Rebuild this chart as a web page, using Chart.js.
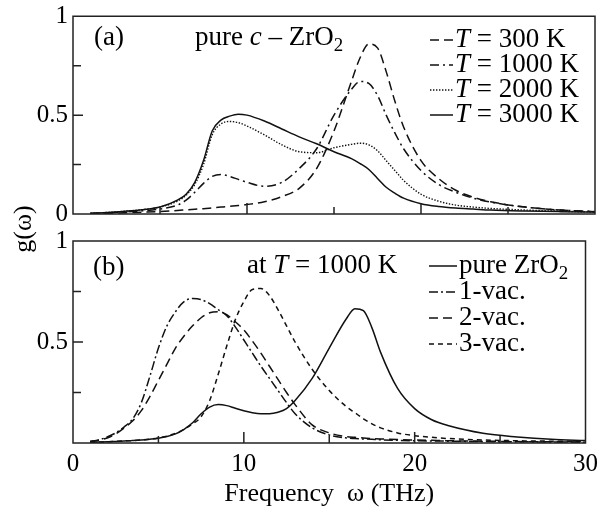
<!DOCTYPE html>
<html>
<head>
<meta charset="utf-8">
<script src="https://cdn.jsdelivr.net/npm/chart.js@4.4.1/dist/chart.umd.min.js"></script>
<style>
  html, body { margin: 0; padding: 0; background: #fff; }
  #wrap { position: relative; width: 607px; height: 513px; }
  #wrap canvas { position: absolute; left: 0; top: 0; }
</style>
</head>
<body>
<div id="wrap">
  <canvas id="top-chart" width="607" height="513"></canvas>
  <canvas id="bottom-chart" width="607" height="513"></canvas>
</div>
<script>
// panel (a): pure c-ZrO2 at several temperatures
const freqA = [1, 2, 3, 4, 5, 6, 6.5, 7, 7.5, 8, 8.5, 9, 9.5, 10, 11, 12, 13, 14, 15, 16,
               16.5, 17, 17.5, 18, 18.5, 19, 20, 21, 22, 23, 24, 26, 28, 30];
const gT300  = [0.002, 0.004, 0.006, 0.009, 0.013, 0.018, 0.021, 0.024, 0.027, 0.031, 0.035, 0.039, 0.043, 0.048,
                0.062, 0.088, 0.13, 0.23, 0.42, 0.67, 0.79, 0.86, 0.84, 0.72, 0.57, 0.44,
                0.27, 0.18, 0.12, 0.085, 0.062, 0.035, 0.02, 0.012];
const gT1000 = [0.003, 0.006, 0.01, 0.016, 0.025, 0.045, 0.07, 0.11, 0.155, 0.19, 0.2, 0.19, 0.175, 0.16,
                0.14, 0.16, 0.23, 0.33, 0.5, 0.63, 0.67, 0.66, 0.6, 0.5, 0.41, 0.33,
                0.22, 0.15, 0.11, 0.08, 0.06, 0.035, 0.02, 0.012];
const gT2000 = [0.004, 0.008, 0.014, 0.022, 0.035, 0.065, 0.095, 0.15, 0.25, 0.4, 0.455, 0.468, 0.462, 0.445,
                0.4, 0.35, 0.315, 0.31, 0.335, 0.352, 0.358, 0.35, 0.32, 0.27, 0.22, 0.17,
                0.1, 0.065, 0.045, 0.035, 0.028, 0.02, 0.014, 0.01];
const gT3000 = [0.004, 0.008, 0.014, 0.022, 0.035, 0.07, 0.1, 0.16, 0.27, 0.42, 0.475, 0.495, 0.505, 0.5,
                0.47, 0.43, 0.39, 0.355, 0.315, 0.28, 0.255, 0.225, 0.18, 0.135, 0.105, 0.08,
                0.052, 0.038, 0.03, 0.025, 0.02, 0.015, 0.012, 0.01];
const tempLabels = ['300 K', '1000 K', '2000 K', '3000 K'];

// panel (b): vacancies at T = 1000 K
const freqB = [1, 1.5, 2, 2.5, 3, 3.5, 4, 4.5, 5, 5.5, 6, 6.5, 7, 7.5, 8, 8.5, 9, 9.5, 10, 10.5,
               11, 11.5, 12, 12.5, 13, 14, 15, 16, 16.5, 17, 17.5, 18, 19, 20, 21, 22, 24, 26, 28, 30];
const gPure = [0.004, 0.005, 0.006, 0.008, 0.01, 0.012, 0.015, 0.019, 0.024, 0.032, 0.045, 0.068, 0.1, 0.145,
               0.178, 0.19, 0.185, 0.172, 0.16, 0.15, 0.145, 0.145, 0.152, 0.17, 0.21, 0.32, 0.47, 0.615,
               0.665, 0.655, 0.57, 0.45, 0.27, 0.17, 0.115, 0.085, 0.048, 0.03, 0.018, 0.012];
const gVac1 = [0.008, 0.015, 0.03, 0.05, 0.08, 0.12, 0.2, 0.33, 0.47, 0.58, 0.65, 0.7, 0.715, 0.71,
               0.69, 0.66, 0.63, 0.575, 0.51, 0.445, 0.38, 0.32, 0.26, 0.2, 0.145, 0.075, 0.04, 0.025,
               0.022, 0.02, 0.018, 0.016, 0.013, 0.011, 0.01, 0.009, 0.007, 0.006, 0.005, 0.004];
const gVac2 = [0.008, 0.014, 0.025, 0.045, 0.075, 0.11, 0.16, 0.23, 0.31, 0.39, 0.47, 0.53, 0.58, 0.62,
               0.645, 0.65, 0.635, 0.6, 0.56, 0.505, 0.445, 0.38, 0.315, 0.25, 0.19, 0.09, 0.05, 0.032,
               0.028, 0.025, 0.022, 0.02, 0.017, 0.015, 0.013, 0.011, 0.009, 0.007, 0.006, 0.005];
const gVac3 = [0.004, 0.005, 0.006, 0.008, 0.01, 0.012, 0.015, 0.019, 0.025, 0.034, 0.048, 0.068, 0.095, 0.13,
               0.21, 0.34, 0.48, 0.61, 0.7, 0.76, 0.765, 0.73, 0.66, 0.58, 0.5, 0.365, 0.26, 0.18,
               0.15, 0.12, 0.095, 0.075, 0.05, 0.036, 0.028, 0.022, 0.015, 0.011, 0.009, 0.007];
const vacLabels = ['pure ZrO', '1-vac.', '2-vac.', '3-vac.'];

const xTicks = [0, 10, 20, 30];
const yTicksA = [0, 0.5, 1];
const yTicksB = [0.5, 1];
const xTickMarks = [5, 10, 15, 20, 25];
const yTickMarks = [0.25, 0.5, 0.75];

const serif = "'Liberation Serif', 'Times New Roman', serif";
const ink = '#111';

function drawParts(ctx, x, y, parts, size) {
    ctx.textBaseline = 'middle';
    ctx.textAlign = 'left';
    let cx = x;
    parts.forEach(p => {
        const s = p.sub ? size * 0.7 : size;
        ctx.font = (p.italic ? 'italic ' : '') + s + 'px ' + serif;
        ctx.fillText(p.t, cx, p.sub ? y + size * 0.3 : y);
        cx += ctx.measureText(p.t).width;
    });
}

const panelPlugin = {
    id: 'panel',
    afterDatasetsDraw(chart, args, opts) {
        const { ctx, chartArea: a, scales: { x, y } } = chart;
        ctx.save();
        ctx.strokeStyle = '#222';
        ctx.lineWidth = 1.5;
        ctx.setLineDash([]);
        ctx.strokeRect(a.left, a.top, a.right - a.left, a.bottom - a.top);

        // inward tick marks
        ctx.beginPath();
        xTickMarks.forEach(v => {
            const px = x.getPixelForValue(v);
            const len = v % 10 === 0 ? 11 : 7;
            ctx.moveTo(px, a.bottom);
            ctx.lineTo(px, a.bottom - len);
        });
        yTickMarks.forEach(v => {
            const py = y.getPixelForValue(v);
            const len = v === 0.5 ? 10 : 8;
            ctx.moveTo(a.left, py);
            ctx.lineTo(a.left + len, py);
        });
        ctx.stroke();

        ctx.fillStyle = '#000';
        opts.texts.forEach(t => drawParts(ctx, t.x, t.y, t.parts, t.size));

        // legend
        const lg = opts.legend;
        chart.data.datasets.forEach((ds, i) => {
            const ry = lg.rows[i];
            ctx.strokeStyle = ink;
            ctx.lineWidth = ds.borderWidth;
            ctx.setLineDash(ds.borderDash || []);
            ctx.beginPath();
            ctx.moveTo(lg.x0, ry);
            ctx.lineTo(lg.x1, ry);
            ctx.stroke();
            ctx.setLineDash([]);
            drawParts(ctx, lg.textX, ry, lg.parts[i], lg.size);
        });

        if (opts.yTitle) {
            ctx.save();
            ctx.translate(opts.yTitle.x, opts.yTitle.y);
            ctx.rotate(-Math.PI / 2);
            ctx.font = opts.yTitle.size + 'px ' + serif;
            ctx.textAlign = 'center';
            ctx.textBaseline = 'middle';
            ctx.fillText(opts.yTitle.text, 0, 0);
            ctx.restore();
        }
        ctx.restore();
    },
};

function line(freq, values, dash, width) {
    return {
        data: freq.map((f, i) => ({ x: f, y: values[i] })),
        borderColor: ink,
        borderWidth: width,
        borderDash: dash,
        pointRadius: 0,
        fill: false,
        cubicInterpolationMode: 'monotone',
    };
}

function yScale(ticks) {
    return {
        min: 0,
        max: 1,
        afterFit: (s) => { s.width = 73; },
        afterBuildTicks: (s) => { s.ticks = ticks.map(v => ({ value: v })); },
        grid: { display: false, drawTicks: false },
        border: { display: false },
        ticks: {
            color: '#000',
            padding: 5,
            callback: (v) => String(v),
            font: { family: serif, size: 25, lineHeight: 0.9 },
        },
    };
}

new Chart(document.getElementById('top-chart'), {
    type: 'line',
    data: {
        datasets: [
            line(freqA, gT300, [9, 5], 1.5),
            line(freqA, gT1000, [9, 4, 2, 4], 1.5),
            line(freqA, gT2000, [1.4, 1.6], 1.4),
            line(freqA, gT3000, [], 1.5),
        ],
    },
    options: {
        responsive: false,
        animation: false,
        layout: { padding: { left: 0, right: 12, top: 12, bottom: 299 } },
        plugins: {
            legend: { display: false },
            tooltip: { enabled: false },
            panel: {
                texts: [
                    { x: 94, y: 38, size: 27, parts: [{ t: '(a)' }] },
                    { x: 195, y: 38, size: 27, parts: [{ t: 'pure ' }, { t: 'c', italic: true }, { t: ' \u2013 ZrO' }, { t: '2', sub: true }] },
                ],
                legend: {
                    x0: 430, x1: 453, textX: 455, size: 27,
                    rows: [40, 65, 90, 115],
                    parts: tempLabels.map(l => [{ t: 'T', italic: true }, { t: ' = ' + l }]),
                },
            },
        },
        scales: {
            x: { type: 'linear', min: 0, max: 30, display: false },
            y: yScale(yTicksA),
        },
    },
    plugins: [panelPlugin],
});

new Chart(document.getElementById('bottom-chart'), {
    type: 'line',
    data: {
        datasets: [
            line(freqB, gPure, [], 1.5),
            line(freqB, gVac1, [9, 3, 2, 3], 1.5),
            line(freqB, gVac2, [9, 5], 1.5),
            line(freqB, gVac3, [5, 4], 1.5),
        ],
    },
    options: {
        responsive: false,
        animation: false,
        layout: { padding: { left: 0, right: 12, top: 241, bottom: 0 } },
        plugins: {
            legend: { display: false },
            tooltip: { enabled: false },
            panel: {
                texts: [
                    { x: 93, y: 268, size: 27, parts: [{ t: '(b)' }] },
                    { x: 247, y: 266, size: 27, parts: [{ t: 'at ' }, { t: 'T', italic: true }, { t: ' = 1000 K' }] },
                ],
                legend: {
                    x0: 429, x1: 457, textX: 459, size: 27,
                    rows: [266, 292, 318, 344],
                    parts: vacLabels.map((l, i) => i === 0 ? [{ t: l }, { t: '2', sub: true }] : [{ t: l }]),
                },
                yTitle: { text: 'g(\u03c9)', x: 24, y: 229, size: 26 },
            },
        },
        scales: {
            x: {
                type: 'linear',
                min: 0,
                max: 30,
                afterFit: (s) => { s.height = 70; },
                afterBuildTicks: (s) => { s.ticks = xTicks.map(v => ({ value: v })); },
                grid: { display: false, drawTicks: false },
                border: { display: false },
                ticks: {
                    color: '#000',
                    padding: 9,
                    maxRotation: 0,
                    callback: (v) => String(v),
                    font: { family: serif, size: 25, lineHeight: 1 },
                },
                title: {
                    display: true,
                    text: 'Frequency  \u03c9 (THz)',
                    color: '#000',
                    padding: { top: 0, bottom: 6 },
                    font: { family: serif, size: 26, lineHeight: 1 },
                },
            },
            y: yScale(yTicksB),
        },
    },
    plugins: [panelPlugin],
});
</script>
</body>
</html>
